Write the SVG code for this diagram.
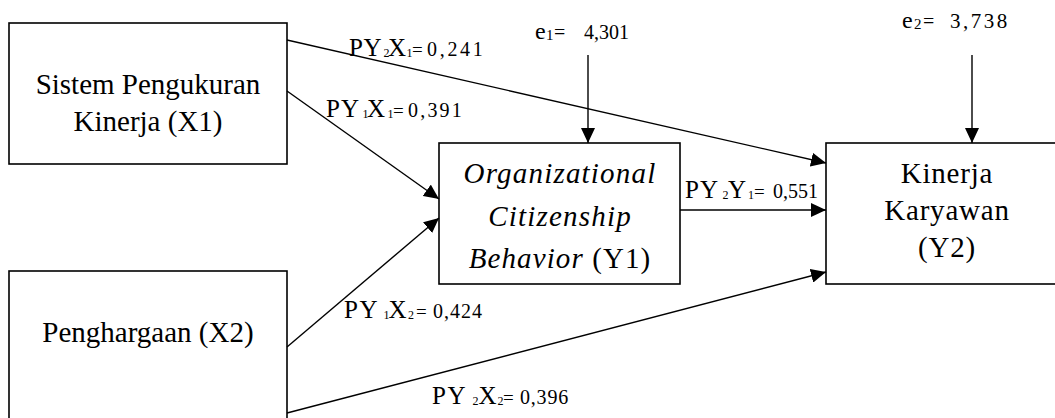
<svg xmlns="http://www.w3.org/2000/svg" width="1055" height="418" viewBox="0 0 1055 418">
<style>
  .box { fill: #fff; stroke: #000; stroke-width: 1.6; }
  .node { font-family: "Liberation Serif", "Times New Roman", serif; font-size: 29px; fill: #000; text-anchor: middle; }
  .it { font-style: italic; }
  .conn { stroke: #000; stroke-width: 1.4; fill: none; marker-end: url(#arr); }
  .lbl { font-family: "Liberation Serif", "Times New Roman", serif; fill: #000; }
  .big { font-size: 25px; }
  .sub { font-size: 12px; }
  .eq { font-size: 19px; }
  .num { font-size: 20px; }
</style>
<defs>
  <marker id="arr" markerUnits="userSpaceOnUse" markerWidth="16" markerHeight="14" refX="15" refY="7" orient="auto">
    <path d="M0,0 L15,7 L0,14 z" fill="#000"/>
  </marker>
</defs>

<g id="node-x1">
  <rect class="box" x="9" y="23" width="278" height="141"/>
  <text class="node" x="148" y="94">Sistem Pengukuran</text>
  <text class="node" x="148" y="131">Kinerja (X1)</text>
</g>

<g id="node-x2">
  <rect class="box" x="9" y="271" width="278" height="160"/>
  <text class="node" x="148" y="342">Penghargaan (X2)</text>
</g>

<g id="node-y1">
  <rect class="box" x="439" y="143" width="241" height="141"/>
  <text class="node it" x="560" y="183" letter-spacing="1.2">Organizational</text>
  <text class="node it" x="560" y="226" letter-spacing="1.2">Citizenship</text>
  <text class="node" x="560" y="268" letter-spacing="1.1"><tspan class="it">Behavior</tspan> (Y1)</text>
</g>

<g id="node-y2">
  <rect class="box" x="826" y="143" width="250" height="141"/>
  <text class="node" x="947" y="183" letter-spacing="0.8" font-size="30">Kinerja</text>
  <text class="node" x="947" y="220" letter-spacing="0.8" font-size="30">Karyawan</text>
  <text class="node" x="947" y="257" letter-spacing="0.8" font-size="30">(Y2)</text>
</g>

<g id="connectors">
  <line class="conn" x1="287" y1="40" x2="826" y2="163"/>
  <line class="conn" x1="287" y1="91" x2="439" y2="199"/>
  <line class="conn" x1="287" y1="347" x2="439" y2="218"/>
  <line class="conn" x1="287" y1="413" x2="826" y2="272"/>
  <line class="conn" x1="680" y1="210" x2="826" y2="210"/>
  <line class="conn" x1="588" y1="55" x2="588" y2="143"/>
  <line class="conn" x1="972" y1="55" x2="972" y2="143"/>
</g>

<g id="labels">
  <text class="lbl" y="56"><tspan class="big" x="349" letter-spacing="0.5">PY</tspan><tspan class="sub" x="383.5" dy="1">2</tspan><tspan class="big" x="388" dy="-1">X</tspan><tspan class="sub" x="406.5" dy="1">1</tspan><tspan class="eq" x="412" dy="-1">= </tspan><tspan class="num" x="427" letter-spacing="2.7">0,241</tspan></text>

  <text class="lbl" y="117"><tspan class="big" x="326" letter-spacing="1">PY</tspan><tspan class="sub" x="362.5" dy="1">1</tspan><tspan class="big" x="367" dy="-1">X</tspan><tspan class="sub" x="387.5" dy="1">1</tspan><tspan class="eq" x="393" dy="-1">= </tspan><tspan class="num" x="408" letter-spacing="2.2">0,391</tspan></text>

  <text class="lbl" y="198"><tspan class="big" x="685" letter-spacing="1">PY</tspan><tspan class="sub" x="722.5" dy="1">2</tspan><tspan class="big" x="728" dy="-1">Y</tspan><tspan class="sub" x="748" dy="1">1</tspan><tspan class="eq" x="754" dy="-1">= </tspan><tspan class="num" x="773">0,551</tspan></text>

  <text class="lbl" y="318"><tspan class="big" x="344" letter-spacing="1.5">PY</tspan><tspan class="sub" x="383.5" dy="1">1</tspan><tspan class="big" x="388.5" dy="-1">X</tspan><tspan class="sub" x="408" dy="1">2</tspan><tspan class="eq" x="416" dy="-1">= </tspan><tspan class="num" x="433" letter-spacing="1">0,424</tspan></text>

  <text class="lbl" y="404"><tspan class="big" x="432" letter-spacing="1.5">PY</tspan><tspan class="sub" x="472.5" dy="1">2</tspan><tspan class="big" x="478.5" dy="-1">X</tspan><tspan class="sub" x="497.5" dy="1">2</tspan><tspan class="eq" x="503" dy="-1">= </tspan><tspan class="num" x="520" letter-spacing="0.8">0,396</tspan></text>

  <text class="lbl" y="39"><tspan font-size="24" x="535">e</tspan><tspan font-size="15" x="546" dy="1">1</tspan><tspan font-size="20" x="554" dy="-1">=  </tspan><tspan font-size="20" x="584">4,301</tspan></text>

  <text class="lbl" y="28"><tspan font-size="24" x="902">e</tspan><tspan font-size="15" x="914" dy="1">2</tspan><tspan font-size="20" x="923" dy="-1">=  </tspan><tspan font-size="21" x="950" letter-spacing="2.5">3,738</tspan></text>
</g>
</svg>
